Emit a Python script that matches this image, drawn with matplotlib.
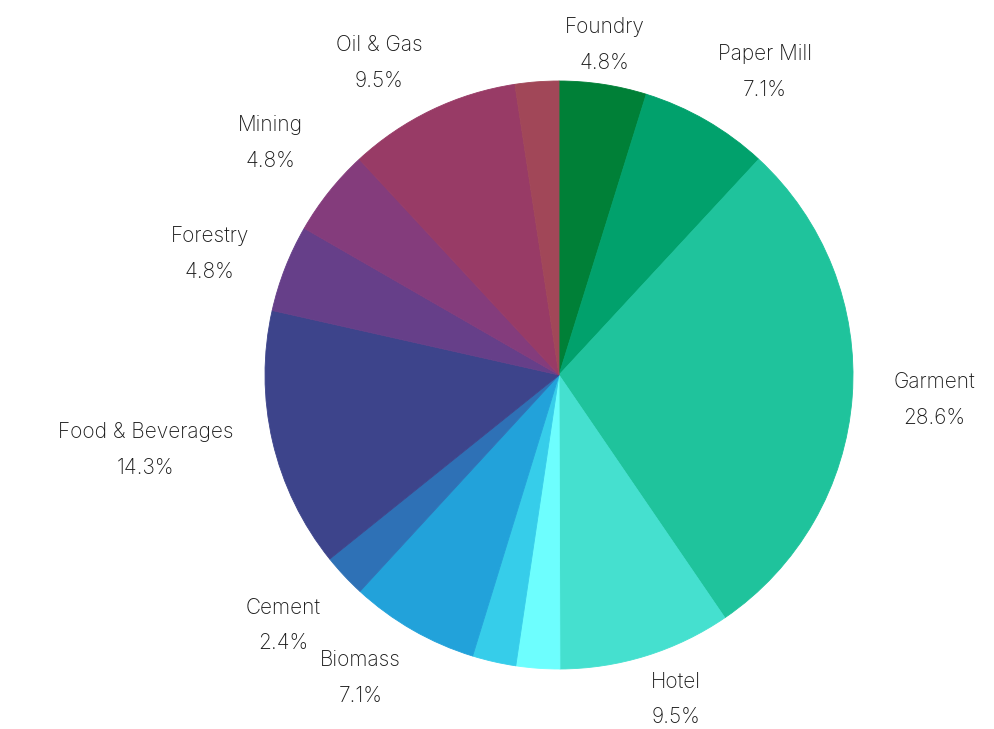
import numpy as np
import matplotlib
matplotlib.use("Agg")
import matplotlib.pyplot as plt

# slices clockwise from 12 o'clock; empty name = no label drawn
names = ["Foundry", "Paper Mill", "Garment", "Hotel", "", "", "Biomass", "Cement",
         "Food & Beverages", "Forestry", "Mining", "Oil & Gas", ""]
shares = [4.8, 7.1, 28.6, 9.5, 2.4, 2.4, 7.1, 2.4, 14.3, 4.8, 4.8, 9.5, 2.4]
colors = ["#008037", "#01a16c", "#1fc39c", "#45e0cf", "#6dfefe", "#36cdea", "#22a2da",
          "#2e71b6", "#3d448b", "#663f89", "#843c7c", "#983b66", "#a14758"]

plt.rcParams['font.family'] = ['Inter', 'DejaVu Sans']

fig = plt.figure(figsize=(9.94, 7.29), dpi=100)
ax = fig.add_axes([265 / 994, 60 / 729, 588 / 994, 588 / 729])

wedges, _ = ax.pie(shares, colors=colors, startangle=90, counterclock=False,
                   wedgeprops=dict(linewidth=0.6))
for w, col in zip(wedges, colors):
    w.set_edgecolor(col)   # hide the hairline seams between slices
ax.set_xlim(-1, 1)
ax.set_ylim(-1, 1)
ax.set_aspect('equal')
ax.axis('off')

# labels: box edge nearest the pie sits just outside the rim
for w, name, val in zip(wedges, names, shares):
    if not name:
        continue
    mid = np.deg2rad((w.theta1 + w.theta2) / 2)
    c, s = np.cos(mid), np.sin(mid)
    r = 1.02 + 0.12 * abs(c)
    ha = 'left' if c > 0.25 else ('right' if c < -0.25 else 'center')
    va = 'bottom' if s > 0.4 else ('top' if s < -0.4 else 'center')
    ax.text(r * c, r * s, "{}\n{}%".format(name, val), ha=ha, va=va,
            multialignment='center', fontsize=15, fontweight='light',
            color='#1a1a1a', linespacing=2.0, clip_on=False)

fig.savefig("out.png", dpi=100)
